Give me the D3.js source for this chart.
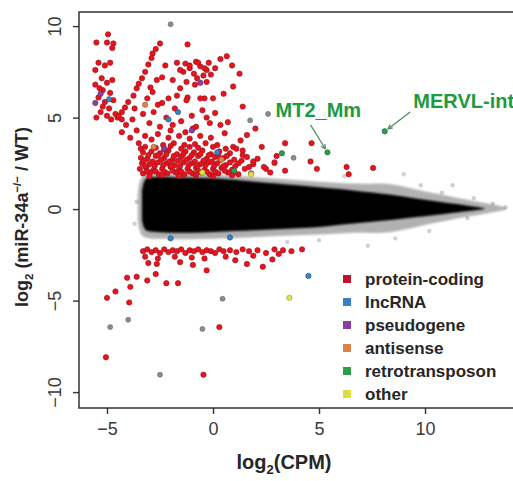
<!DOCTYPE html>
<html lang="en">
  <head>
    <meta charset="UTF-8" />
    <title>MA plot</title>
    <script src="https://d3js.org/d3.v7.min.js"></script>
    <style>
      body { margin: 0; background: #fff; }
      text { font-family: "Liberation Sans", Arial, sans-serif; }
      .tick text { font-size: 18px; fill: #3a3a3a; }
      .tick line { stroke: #333; stroke-width: 1.4; }
      .leg { font-size: 17px; font-weight: bold; fill: #262626; }
      .lab { font-weight: bold; fill: #262626; }
      .ann { font-size: 20px; font-weight: bold; fill: #1f9a3e; }
    </style>
  </head>
  <body>
    <svg id="canvas" width="513" height="481"></svg>
    <script>
      // dense cloud of unchanged genes, envelope
      const cloudX     = [-3.35, -3.25, -3.0, -2.0, -1.0, 0.0, 1.0, 2.0, 3.0, 4.0, 5.0, 6.0, 7.0, 8.0, 9.0, 10.0, 11.0, 12.0, 12.8];
      const cloudUpper = [1.0, 1.65, 1.75, 1.75, 1.7, 1.7, 1.6, 1.5, 1.4, 1.3, 1.2, 1.1, 0.95, 0.85, 0.7, 0.5, 0.35, 0.2, 0.05];
      const cloudLower = [-0.6, -1.15, -1.25, -1.3, -1.3, -1.25, -1.2, -1.15, -1.1, -1.05, -1.0, -0.85, -0.75, -0.65, -0.5, -0.4, -0.25, -0.12, 0.0];
      const haloX      = [-3.55, -3.45, -3.0, -1.0, 1.0, 3.0, 5.0, 7.0, 8.0, 9.0, 10.0, 11.0, 12.0, 13.0, 13.8];
      const haloUpper  = [0.8, 1.85, 1.95, 1.95, 1.85, 1.65, 1.5, 1.35, 1.45, 1.25, 0.95, 0.75, 0.5, 0.3, 0.1];
      const haloLower  = [-0.6, -1.5, -1.65, -1.65, -1.6, -1.45, -1.4, -1.25, -1.35, -1.15, -0.85, -0.65, -0.4, -0.22, -0.05];

      const proteinCoding = [
        [-5.5,9.1],[-4.95,9.55],[-5.0,9.1],[-4.7,9.05],[-4.75,8.8],
        [-5.4,8.0],[-5.1,7.85],[-4.85,8.0],[-5.55,7.6],[-5.25,7.15],[-4.75,7.05],[-5.55,6.8],[-5.2,6.5],
        [-4.85,6.35],[-5.4,6.1],[-5.1,5.85],[-4.7,5.95],[-5.3,5.3],[-5.0,5.1],[-4.6,5.2],[-5.5,5.0],
        [-4.8,4.9],[-5.35,6.6],[-5.0,6.9],[-4.9,5.5],[-5.2,5.6],[-4.5,5.0],[-4.3,4.9],
        [-2.85,8.5],[-2.9,8.25],[-3.05,7.9],[-3.2,7.5],[-3.35,7.15],[-3.5,6.85],[-3.6,6.6],[-3.75,6.2],
        [-4.0,5.85],[-4.15,5.55],[-4.3,5.3],[-4.45,5.1],[-2.7,8.75],
        [-2.5,9.05],[-1.2,9.0],[0.65,8.35],[0.35,8.2],[0.9,7.85],[1.25,7.4],[0.95,6.7],[0.5,6.3],
        [0.0,6.05],[-0.4,6.05],[-0.75,7.15],[-0.3,6.95],[-1.2,6.1],
        [-1.4,7.5],[-1.1,7.7],[-0.9,7.4],[-0.6,7.8],[-0.3,7.6],[-0.1,7.35],[0.1,7.7],[-0.8,8.05],
        [-1.3,7.95],[-0.45,7.3],[-0.2,8.0],
        [-2.25,7.85],[-1.7,8.0],[-1.55,7.6],[-1.1,7.85],[-0.7,8.0],[-0.4,7.7],[-2.4,7.2],[-2.65,7.05],
        [-1.9,7.05],[-1.55,6.6],[-1.25,6.95],[-0.85,6.8],[-3.1,6.05],[-2.85,6.4],[-2.1,6.05],[-1.7,6.2],
        [-1.25,5.95],[-0.6,6.05],[-2.6,5.7],[-2.95,6.65],
        [-4.1,4.6],[-3.8,4.9],[-3.6,4.3],[-3.3,5.2],[-3.0,4.7],[-2.8,5.3],[-2.5,4.5],[-2.2,5.0],
        [-2.0,4.3],[-1.8,5.5],[-1.5,4.8],[-1.3,4.2],[-1.0,5.1],[-0.8,4.5],[-0.5,5.4],[-0.3,5.0],
        [-0.15,4.7],[0.1,5.25],[0.35,4.6],[0.7,4.75],[1.4,5.6],[-3.9,3.9],[-3.5,3.6],[-3.2,4.0],
        [-2.9,3.8],[-2.6,4.1],[-2.35,3.5],[-2.1,3.9],[-1.85,3.6],[-1.6,4.0],[-1.35,3.5],[-1.1,3.85],
        [-0.85,3.55],[-0.6,4.0],[-0.35,3.6],[-0.1,3.9],[0.2,3.5],[0.55,4.15],[0.95,3.4],[1.3,3.75],
        [1.6,4.05],[2.3,3.4],[3.4,3.6],[4.65,3.6],[-4.3,4.2],[-3.7,5.5],[-2.4,5.8],[-1.9,4.6],[-0.95,4.4],
        [-3.3,3.1],[-2.9,3.15],[-2.5,3.05],[-2.1,3.2],[-1.7,3.0],[-1.3,3.15],[-0.9,3.1],[-0.5,3.2],
        [-0.1,3.0],[0.3,3.15],[0.8,3.05],[1.4,3.2],
        [-3.4,2.8],[-3.1,2.75],[-2.7,2.9],[-2.3,2.8],[-1.9,2.7],[-1.5,2.85],[-1.1,2.8],[-0.7,2.9],
        [-0.3,2.75],[0.1,2.85],[0.5,2.8],[1.0,2.7],[1.6,2.85],[2.1,2.75],
        [-3.35,2.5],[-3.0,2.45],[-2.6,2.55],[-2.2,2.5],[-1.8,2.4],[-1.4,2.55],[-1.0,2.5],[-0.6,2.45],
        [-0.2,2.55],[0.2,2.5],[0.6,2.4],[1.2,2.5],[1.9,2.45],[2.9,2.55],
        [-3.45,2.2],[-3.15,2.25],[-2.8,2.15],[-2.4,2.2],[-2.0,2.3],[-1.6,2.15],[-1.2,2.2],[-0.8,2.25],
        [-0.4,2.15],[0.0,2.2],[0.4,2.25],[0.9,2.15],[1.5,2.2],[2.5,2.2],
        [-3.3,1.95],[-2.95,2.0],[-2.55,1.9],[-2.15,1.95],[-1.75,2.0],[-1.35,1.9],[-0.95,1.95],[-0.55,2.0],
        [-0.15,1.9],[0.25,1.95],[0.7,2.0],[1.2,1.9],[1.8,1.95],
        [-3.25,2.65],[-2.85,2.6],[-2.45,2.7],[-2.05,2.6],[-1.65,2.65],[-1.25,2.7],[-0.85,2.6],[-0.45,2.65],
        [-0.05,2.6],[0.35,2.7],[0.8,2.55],[1.35,2.65],[-3.2,2.35],[-2.75,2.35],[-2.35,2.4],[-1.95,2.35],
        [-1.55,2.35],[-1.15,2.4],[-0.75,2.35],[-0.35,2.4],[0.05,2.35],[0.5,2.35],[1.05,2.35],[1.7,2.3],
        [-3.1,2.05],[-2.7,2.05],[-2.3,2.05],[-1.9,2.1],[-1.5,2.05],[-1.1,2.05],[-0.7,2.1],[-0.3,2.05],
        [0.1,2.05],[0.55,2.1],[1.0,2.0],[-3.05,2.95],[-2.6,2.95],[-2.2,3.0],[-1.85,2.9],[-1.4,3.0],
        [-1.0,2.95],[-0.6,3.0],[-0.2,2.95],[0.25,2.95],[0.65,2.9],[-3.4,3.3],[-2.3,3.25],[-1.1,3.4],
        [-3.0,1.8],[-2.4,1.85],[-1.6,1.8],[-0.8,1.85],[0.0,1.8],[0.9,1.85],
        [-3.2,3.4],[-2.7,3.35],[-2.0,3.45],[-1.5,3.3],[-0.7,3.35],[0.0,3.4],[0.6,3.3],[1.1,3.3],
        [1.4,2.95],[1.9,2.6],[2.7,2.0],[3.4,2.1],[4.6,2.6],[4.9,2.2],[6.3,2.3],[7.55,2.25],[6.4,1.9],
        [2.0,4.4],[3.0,2.9],[2.4,2.3],
        [-3.3,-2.3],[-3.1,-2.2],[-2.9,-2.35],[-2.7,-2.25],[-2.5,-2.4],[-2.3,-2.2],[-2.1,-2.35],[-1.9,-2.25],
        [-1.7,-2.3],[-1.5,-2.2],[-1.3,-2.4],[-1.1,-2.25],[-0.9,-2.3],[-0.7,-2.2],[-0.5,-2.35],[-0.3,-2.25],
        [-0.1,-2.3],[0.1,-2.4],[0.3,-2.2],[0.5,-2.3],[0.8,-2.25],[1.1,-2.35],[1.4,-2.2],[1.7,-2.3],
        [2.1,-2.25],[2.5,-2.4],[2.9,-2.2],[3.3,-2.25],[3.7,-2.3],[4.2,-2.2],[-3.2,-2.6],[-2.6,-2.7],
        [-1.8,-2.6],[-1.0,-2.65],[-0.4,-2.7],[0.6,-2.6],[1.9,-2.55],[3.1,-2.45],
        [-5.0,-4.85],[-4.6,-4.5],[-4.05,-3.75],[-3.9,-4.25],[-3.95,-5.1],[-3.6,-3.7],[-3.1,-3.9],
        [-2.7,-3.55],[-2.65,-3.0],[-3.05,-2.95],[-2.2,-4.05],[-1.65,-4.05],[-1.55,-2.9],[-0.95,-3.05],
        [-0.3,-3.35],[1.05,-2.8],[1.6,-3.0],[2.35,-3.15],[2.8,-2.75],[-5.05,-8.1],[-0.45,-9.05],[0.3,-6.45]
      ];
      const lncRNA = [[-1.65,5.3],[4.5,-3.65],[-4.9,6.0],[-2.1,4.9],[0.2,3.1],[-2.0,-1.6],[0.8,-1.55]];
      const pseudogene = [[-5.55,5.8],[-5.3,6.3],[-1.0,4.3],[-0.6,6.9],[-2.3,3.3]];
      const antisense = [[-3.2,5.7],[-2.8,3.4],[0.4,2.7]];
      const retrotransposon = [[5.4,3.1],[8.1,4.25],[3.25,3.05],[1.0,2.1]];
      const other = [[3.6,-4.85],[-0.5,2.0],[1.8,1.9]];
      // dark grey outliers, and faint stragglers of the cloud
      const greyPoints = [
        [-4.85,-6.45],[-4.0,-6.05],[-2.5,-9.05],[-0.5,-6.55],[0.45,-4.9],[-2.0,10.1],[1.75,4.85],
        [2.6,5.2],[3.8,2.8],[2.9,2.5]
      ];
      const faintPoints = [
        [11.3,1.3],[12.3,0.6],[13.2,0.3],[13.8,0.1],[10.2,-1.2],[9.0,1.9],[7.3,-2.0],[8.6,-1.6],
        [10.8,0.9],[6.2,1.8],[5.0,-1.7],[9.8,1.3],[12.0,-0.5],[-3.6,0.4],[-3.7,-0.8],[3.5,-1.8]
      ];

      const categories = ["protein-coding", "lncRNA", "pseudogene", "antisense", "retrotransposon", "other"];
      const catColors = ["#ec1318", "#3b82c4", "#8e3fa0", "#d9874e", "#2e9e4a", "#dfe345"];
      const legendColors = ["#c0142c", "#3a80c2", "#8a3d9a", "#d9824a", "#2e9e46", "#d8e040"];
      const catData = [proteinCoding, lncRNA, pseudogene, antisense, retrotransposon, other];

      const xTicks = [-5, 0, 5, 10];
      const yTicks = [-10, -5, 0, 5, 10];

      const svg = d3.select("#canvas");
      const pLeft = 79, pTop = 12, pBottom = 408, pRight = 520;

      const x = d3.scaleLinear().domain([-6.32, 14.48]).range([pLeft, pRight]);
      const y = d3.scaleLinear().domain([-10.87, 10.77]).range([pBottom, pTop]);

      svg.append("defs").append("filter").attr("id", "soft")
        .append("feGaussianBlur").attr("stdDeviation", 1.1);

      // cloud: faint halo, then the dense core
      const band = d3.area().x((d) => x(d[0])).y0((d) => y(d[2])).y1((d) => y(d[1])).curve(d3.curveBasis);
      svg.append("path")
        .datum(haloX.map((v, i) => [v, haloUpper[i], haloLower[i]]))
        .attr("d", band).attr("fill", "#000").attr("opacity", 0.3).attr("filter", "url(#soft)");

      svg.selectAll(".faint").data(faintPoints).enter().append("circle")
        .attr("cx", (d) => x(d[0])).attr("cy", (d) => y(d[1])).attr("r", 2.2)
        .attr("fill", "#000").attr("opacity", 0.18);

      svg.append("path")
        .datum(cloudX.map((v, i) => [v, cloudUpper[i], cloudLower[i]]))
        .attr("d", band).attr("fill", "#000").attr("filter", "url(#soft)");

      svg.selectAll(".grey").data(greyPoints).enter().append("circle")
        .attr("cx", (d) => x(d[0])).attr("cy", (d) => y(d[1])).attr("r", 2.5)
        .attr("fill", "#666").attr("stroke", "#333").attr("stroke-width", 0.6).attr("opacity", 0.75);

      catData.forEach((pts, k) => {
        svg.append("g").selectAll("circle").data(pts).enter().append("circle")
          .attr("cx", (d) => x(d[0])).attr("cy", (d) => y(d[1])).attr("r", 2.7)
          .attr("fill", catColors[k])
          .attr("stroke", k === 0 ? "#8a1428" : d3.color(catColors[k]).darker(1.2))
          .attr("stroke-width", 0.6);
      });

      // frame
      svg.append("rect").attr("x", pLeft).attr("y", pTop)
        .attr("width", pRight - pLeft).attr("height", pBottom - pTop)
        .attr("fill", "none").attr("stroke", "#333").attr("stroke-width", 1.5);

      const xAxis = svg.append("g").attr("transform", `translate(0,${pBottom})`)
        .call(d3.axisBottom(x).tickValues(xTicks).tickSize(6).tickFormat(d3.format("d")));
      xAxis.select(".domain").remove();
      xAxis.selectAll("text").attr("y", 14).attr("font-family", null);

      const yAxis = svg.append("g").attr("transform", `translate(${pLeft},0)`)
        .call(d3.axisLeft(y).tickValues(yTicks).tickSize(6).tickFormat(d3.format("d")));
      yAxis.select(".domain").remove();
      yAxis.selectAll("text")
        .attr("transform", "rotate(-90)")
        .attr("x", 0).attr("y", -24).attr("dy", "0.36em")
        .attr("text-anchor", "middle").attr("font-family", null);

      // axis titles
      const xl = svg.append("text").attr("class", "lab").attr("font-size", 20)
        .attr("x", 284).attr("y", 469).attr("text-anchor", "middle");
      xl.append("tspan").text("log");
      xl.append("tspan").attr("font-size", 13).attr("dy", 5).text("2");
      xl.append("tspan").attr("dy", -5).text("(CPM)");

      const yl = svg.append("text").attr("class", "lab").attr("font-size", 18)
        .attr("transform", "translate(28,217) rotate(-90)").attr("text-anchor", "middle");
      yl.append("tspan").text("log");
      yl.append("tspan").attr("font-size", 11.5).attr("dy", 5).text("2");
      yl.append("tspan").attr("dy", -5).text(" (miR-34a");
      yl.append("tspan").attr("font-size", 11.5).attr("dy", -7).text("\u2212/\u2212");
      yl.append("tspan").attr("dy", 7).text(" / WT)");

      // annotations of the two retrotransposons
      const ann = [
        { name: "MT2_Mm", tx: 2.95, ty: 5.4, from: [4.6, 4.6], to: retrotransposon[0] },
        { name: "MERVL-int", tx: 9.45, ty: 5.9, from: [9.3, 5.3], to: retrotransposon[1] }
      ];
      ann.forEach((a) => {
        svg.append("text").attr("class", "ann").attr("x", x(a.tx)).attr("y", y(a.ty))
          .attr("dy", "0.35em").text(a.name);
        const x1 = x(a.from[0]), y1 = y(a.from[1]);
        const x2 = x(a.to[0]), y2 = y(a.to[1]);
        const ang = Math.atan2(y2 - y1, x2 - x1);
        const ex = x2 - 4 * Math.cos(ang), ey = y2 - 4 * Math.sin(ang);
        svg.append("line").attr("x1", x1).attr("y1", y1).attr("x2", ex).attr("y2", ey)
          .attr("stroke", "#4a8a5a").attr("stroke-width", 1.2);
        const h = 5;
        svg.append("path")
          .attr("d", `M${ex},${ey}L${ex - h * Math.cos(ang - 0.45)},${ey - h * Math.sin(ang - 0.45)}M${ex},${ey}L${ex - h * Math.cos(ang + 0.45)},${ey - h * Math.sin(ang + 0.45)}`)
          .attr("stroke", "#4a8a5a").attr("stroke-width", 1.2).attr("fill", "none");
      });

      // legend
      const leg = svg.append("g");
      categories.forEach((c, i) => {
        const ly = 279 + i * 23;
        leg.append("rect").attr("x", 343).attr("y", ly - 4).attr("width", 8).attr("height", 8)
          .attr("fill", legendColors[i]);
        leg.append("text").attr("class", "leg").attr("x", 365).attr("y", ly).attr("dy", "0.35em").text(c);
      });
    </script>
  </body>
</html>
